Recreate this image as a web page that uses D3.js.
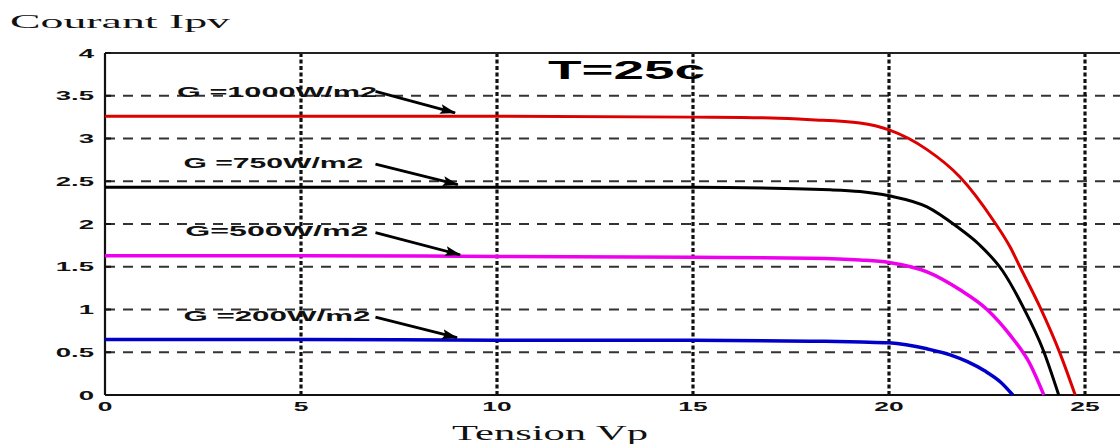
<!DOCTYPE html>
<html>
<head>
<meta charset="utf-8">
<script src="https://cdn.jsdelivr.net/npm/d3@7"></script>
<style>
  html, body { margin: 0; padding: 0; background: #fff; }
  svg { display: block; }
</style>
</head>
<body>
<svg id="chart" width="1120" height="444"></svg>
<script>
// I-V characteristics of a PV module at T = 25 °C for four irradiance levels
const xTicks = [0, 5, 10, 15, 20, 25];
const yTicks = [0, 0.5, 1, 1.5, 2, 2.5, 3, 3.5, 4];
const yTickLabels = ["0", "0.5", "1", "1.5", "2", "2.5", "3", "3.5", "4"];

const seriesNames = ["G =1000W/m2", "G =750W/m2", "G=500W/m2", "G =200W/m2"];

const v1000 = [0, 5, 10, 15, 17, 18, 19.26, 20, 20.97, 21.81, 22.65, 23.09, 23.34, 23.85, 24.36, 24.75];
const i1000 = [3.26, 3.26, 3.26, 3.25, 3.24, 3.22, 3.18, 3.10, 2.87, 2.55, 2.05, 1.73, 1.50, 1.03, 0.49, 0];

const v750 = [0, 5, 10, 15, 18.5, 19.26, 20, 20.97, 21.73, 22.3, 22.9, 23.42, 23.93, 24.33];
const i750 = [2.43, 2.43, 2.43, 2.43, 2.40, 2.38, 2.33, 2.20, 1.97, 1.76, 1.45, 1.03, 0.53, 0];

const v500 = [0, 5, 10, 15, 18, 19.26, 20, 20.97, 21.81, 22.5, 23.09, 23.6, 23.95];
const i500 = [1.63, 1.63, 1.62, 1.61, 1.60, 1.58, 1.55, 1.44, 1.23, 1.00, 0.70, 0.36, 0];

const v200 = [0, 5, 10, 15, 18, 19.3, 20, 20.97, 21.56, 22.0, 22.45, 22.85, 23.16];
const i200 = [0.65, 0.65, 0.64, 0.64, 0.63, 0.62, 0.61, 0.54, 0.47, 0.39, 0.28, 0.15, 0];

// Annotation label anchors and arrows (in V / A units)
const labelV = [1.84, 2.0, 2.05, 2.0];
const labelI = [3.49, 2.66, 1.86, 0.87];
const arrowFromV = [6.9, 6.9, 6.9, 6.9];
const arrowFromI = [3.55, 2.70, 1.90, 0.91];
const arrowToV = [8.93, 9.0, 9.06, 8.98];
const arrowToI = [3.30, 2.46, 1.64, 0.67];

const temperatureLabel = "T=25c";
const tempV = 11.3, tempI = 3.7;

// ---- layout & styles ----
const svg = d3.select("#chart");
const colors = ["#dd0000", "#000000", "#ee00ee", "#0000c8"];
const widths = [3, 3, 3.5, 3.5];
const labelLengths = [200, 180, 183, 187];

const x = d3.scaleLinear().domain([0, 27]).range([105, 105 + 27 * 39.2]);
const y = d3.scaleLinear().domain([0, 4]).range([395, 53]);

// grid: dashed horizontals, dotted verticals
svg.append("g").selectAll("line")
  .data(yTicks.filter(t => t > 0 && t < 4))
  .join("line")
  .attr("x1", x(0)).attr("x2", 1120)
  .attr("y1", d => y(d)).attr("y2", d => y(d))
  .attr("stroke", "#333").attr("stroke-width", 2)
  .attr("stroke-dasharray", "10,8");

svg.append("g").selectAll("line")
  .data(xTicks.filter(t => t > 0))
  .join("line")
  .attr("x1", d => x(d)).attr("x2", d => x(d))
  .attr("y1", y(4)).attr("y2", y(0))
  .attr("stroke", "#111").attr("stroke-width", 3.2)
  .attr("stroke-dasharray", "4,2.5");

// frame
svg.append("line").attr("x1", x(0)).attr("x2", 1120).attr("y1", y(4)).attr("y2", y(4))
  .attr("stroke", "#222").attr("stroke-width", 2);
svg.append("line").attr("x1", x(0)).attr("x2", 1120).attr("y1", y(0)).attr("y2", y(0))
  .attr("stroke", "#111").attr("stroke-width", 2);
svg.append("line").attr("x1", x(0)).attr("x2", x(0)).attr("y1", y(4)).attr("y2", y(0))
  .attr("stroke", "#111").attr("stroke-width", 2.2);

// inward ticks
svg.append("g").selectAll("line").data(yTicks).join("line")
  .attr("x1", x(0)).attr("x2", x(0) + 6)
  .attr("y1", d => y(d)).attr("y2", d => y(d))
  .attr("stroke", "#111").attr("stroke-width", 2);

// y tick labels (wide bold)
svg.append("g").selectAll("text").data(yTicks).join("text")
  .attr("transform", d => `translate(94,${y(d) + 4.5}) scale(2.3,1)`)
  .attr("text-anchor", "end")
  .attr("font-family", "Liberation Sans, Arial, sans-serif")
  .attr("font-weight", "bold").attr("font-size", 12)
  .attr("fill", "#111")
  .text((d, i) => yTickLabels[i]);

// x tick labels
svg.append("g").selectAll("text").data(xTicks).join("text")
  .attr("transform", d => `translate(${x(d)},${y(0) + 16}) scale(2.2,1)`)
  .attr("text-anchor", "middle")
  .attr("font-family", "Liberation Sans, Arial, sans-serif")
  .attr("font-weight", "bold").attr("font-size", 12)
  .attr("fill", "#111")
  .text(d => d);

// curves
const series = [[v1000, i1000], [v750, i750], [v500, i500], [v200, i200]];
const line = d3.line().x(d => x(d[0])).y(d => y(d[1])).curve(d3.curveMonotoneX);
series.forEach(([vs, is], k) => {
  const pts = vs.map((v, j) => [v, is[j]]);
  svg.append("path").datum(pts)
    .attr("d", line)
    .attr("fill", "none")
    .attr("stroke", colors[k])
    .attr("stroke-width", widths[k])
    .attr("stroke-linejoin", "round");
});

// arrow marker
svg.append("defs").append("marker")
  .attr("id", "arrowhead")
  .attr("viewBox", "0 0 16 10")
  .attr("refX", 15).attr("refY", 5)
  .attr("markerWidth", 16).attr("markerHeight", 10)
  .attr("markerUnits", "userSpaceOnUse")
  .attr("orient", "auto")
  .append("path").attr("d", "M0,0 L16,5 L0,10 L3,5 Z").attr("fill", "#000");

// annotation labels + arrows
seriesNames.forEach((name, k) => {
  svg.append("text")
    .attr("x", x(labelV[k])).attr("y", y(labelI[k]))
    .attr("font-family", "Liberation Sans, Arial, sans-serif")
    .attr("font-weight", "bold").attr("font-size", 14)
    .attr("fill", "#111")
    .attr("textLength", labelLengths[k])
    .attr("lengthAdjust", "spacingAndGlyphs")
    .text(name);
  svg.append("line")
    .attr("x1", x(arrowFromV[k])).attr("y1", y(arrowFromI[k]))
    .attr("x2", x(arrowToV[k])).attr("y2", y(arrowToI[k]))
    .attr("stroke", "#000").attr("stroke-width", 2.8)
    .attr("marker-end", "url(#arrowhead)");
});

// temperature label
svg.append("text")
  .attr("x", x(tempV)).attr("y", y(tempI))
  .attr("font-family", "Liberation Sans, Arial, sans-serif")
  .attr("font-weight", "bold").attr("font-size", 26)
  .attr("fill", "#000")
  .attr("textLength", 157).attr("lengthAdjust", "spacingAndGlyphs")
  .text(temperatureLabel);

// axis titles
svg.append("text")
  .attr("x", 10).attr("y", 28)
  .attr("font-family", "Liberation Serif, Times New Roman, serif")
  .attr("font-size", 19).attr("fill", "#111")
  .attr("textLength", 220).attr("lengthAdjust", "spacingAndGlyphs")
  .text("Courant Ipv");

svg.append("text")
  .attr("x", 452).attr("y", 440)
  .attr("font-family", "Liberation Serif, Times New Roman, serif")
  .attr("font-size", 21).attr("fill", "#111")
  .attr("textLength", 196).attr("lengthAdjust", "spacingAndGlyphs")
  .text("Tension Vp");
</script>
</body>
</html>
